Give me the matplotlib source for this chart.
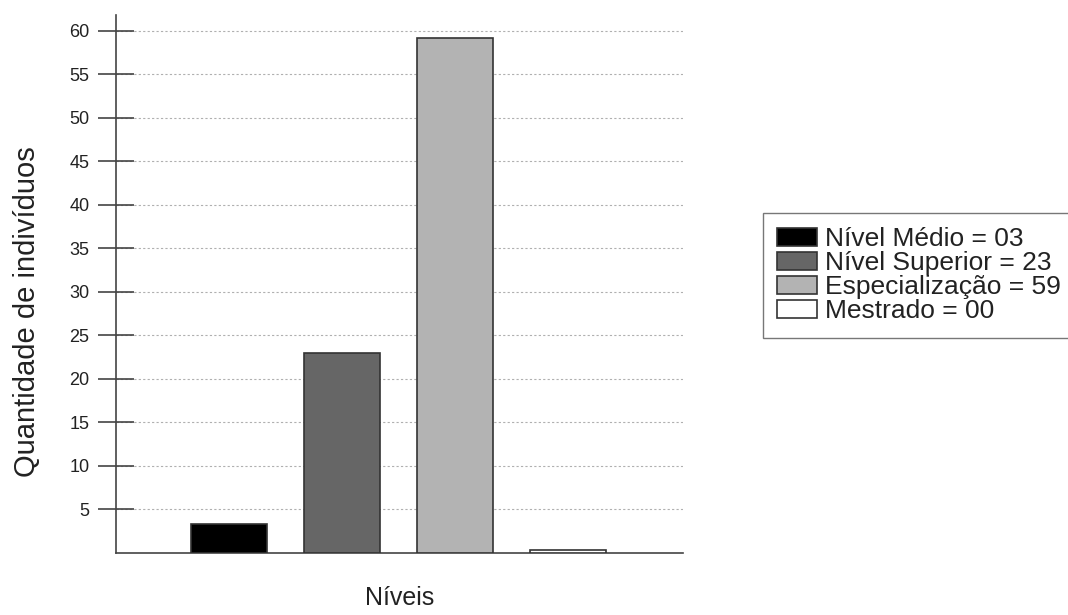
import matplotlib
matplotlib.use("Agg")
import matplotlib.pyplot as plt

plt.rcParams['font.family'] = ['Liberation Sans', 'DejaVu Sans']

# data
niveis = ['Nível Médio = 03', 'Nível Superior = 23', 'Especialização = 59', 'Mestrado = 00']
quantidades = [3.3, 23.0, 59.2, 0.3]
cores = ['#000000', '#666666', '#b3b3b3', '#ffffff']
yticks = [5, 10, 15, 20, 25, 30, 35, 40, 45, 50, 55, 60]

fig = plt.figure(figsize=(10.68, 6.15), dpi=100)
ax = fig.add_axes([0.1086, 0.1008, 0.5309, 0.8748])

posicoes = list(range(1, len(quantidades) + 1))
bars = ax.bar(posicoes, quantidades, width=0.67, color=cores,
              edgecolor='#333333', linewidth=1.2, label=niveis, zorder=3)

ax.set_xlim(0, 5.02)
ax.set_ylim(0, 61.8)
ax.set_yticks(yticks)
ax.set_xticks([])
ax.yaxis.grid(True, linestyle=(0, (2, 2)), color='#b0b0b0', linewidth=0.8, zorder=0)
ax.tick_params(axis='y', direction='inout', length=26, width=1.2, color='#444444',
               labelsize=13, pad=6, labelcolor='#222222')

for s in ['top', 'right']:
    ax.spines[s].set_visible(False)
for s in ['left', 'bottom']:
    ax.spines[s].set_color('#444444')
    ax.spines[s].set_linewidth(1.2)

fig.text(0.0253, 0.4935, 'Quantidade de indivíduos', rotation=90, fontsize=21,
         ha='center', va='center', color='#222222')
fig.text(0.3745, 0.028, 'Níveis', fontsize=18, ha='center', va='center', color='#222222')

leg = fig.legend(handles=bars, labels=niveis, loc='upper left',
                 bbox_to_anchor=(0.7144, 0.6537), bbox_transform=fig.transFigure,
                 borderaxespad=0, fontsize=19, frameon=True, fancybox=False,
                 handlelength=1.5, handleheight=0.65, handletextpad=0.3,
                 labelspacing=0.0, borderpad=0.55)
leg.get_frame().set_edgecolor('#555555')
leg.get_frame().set_linewidth(1.0)
for t in leg.get_texts():
    t.set_color('#222222')

fig.savefig('out.png', dpi=100)
